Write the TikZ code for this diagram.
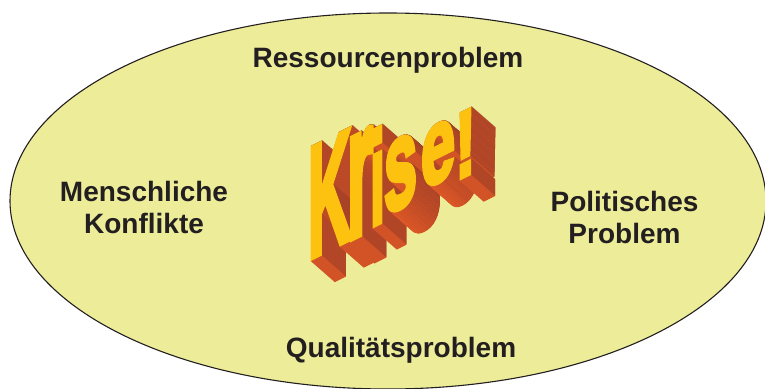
\documentclass[tikz,border=0pt]{standalone}
\usepackage{fontspec}
\usepackage{graphicx}
\setmainfont{Liberation Sans}
\newfontfamily\krisefont{Liberation Sans Bold}[FakeBold=4.5]
\usetikzlibrary{calc,shapes.geometric}

\definecolor{blasgelb}{RGB}{237,237,153}
\definecolor{textgrau}{RGB}{35,31,32}
\definecolor{krisegelb}{RGB}{253,194,16}
\definecolor{kriseorange}{RGB}{226,90,38}
\definecolor{krisebraun}{RGB}{160,64,42}

\tikzset{
  begriff/.style={font=\bfseries\fontsize{28}{32}\selectfont, text=textgrau, align=center, inner sep=0pt},
  buchstabe/.style={transform shape, yslant=0.5, anchor=base west, inner sep=0pt, outer sep=0pt}
}

\begin{document}
\begin{tikzpicture}[x=1pt, y=-1pt]
\useasboundingbox (0,0) rectangle (765,388);
\clip (0,0) rectangle (765,388);

\node[ellipse, draw=textgrau, line width=1.1pt, fill=blasgelb, minimum width=756pt, minimum height=376pt, inner sep=0pt] (rahmen) at (388,201) {};

\node[begriff, anchor=base] (ressourcen) at (388,67) {Ressourcenproblem};
\node[begriff] (menschlich) at (144,207) {Menschliche\\Konflikte};
\node[begriff] (politisch) at (624.5,217.5) {Politisches\\Problem};
\node[begriff, anchor=base] (qualitaet) at (401,357) {Qualitätsproblem};

% Krise! - Tiefe aus vielen Kopien
\foreach \t in {60,...,1}{
  \foreach \b/\x/\y/\w/\h in {K/308/259/43/108, r/347/240/26/100, i/370/227/15/94, s/384/215/33/68, e/421/190/34/57, !/455/181/21/64}{
    \node[buchstabe, text=kriseorange] at ($(\x,\y)+\t*(0.4,0.35)$) {\resizebox{\w pt}{\h pt}{\krisefont\b}};
    \node[buchstabe, text=krisebraun] at ($(\x,\y)+\t*(0.4,0.35)-(0,0.6)$) {\resizebox{\w pt}{\h pt}{\krisefont\b}};
  }
}
\foreach \b/\x/\y/\w/\h [count=\n] in {K/308/259/43/108, r/347/240/26/100, i/370/227/15/94, s/384/215/33/68, e/421/190/34/57, !/455/181/21/64}{
  \node[buchstabe, text=krisegelb] (krise\n) at (\x,\y) {\resizebox{\w pt}{\h pt}{\krisefont\b}};
}

\end{tikzpicture}
\end{document}
